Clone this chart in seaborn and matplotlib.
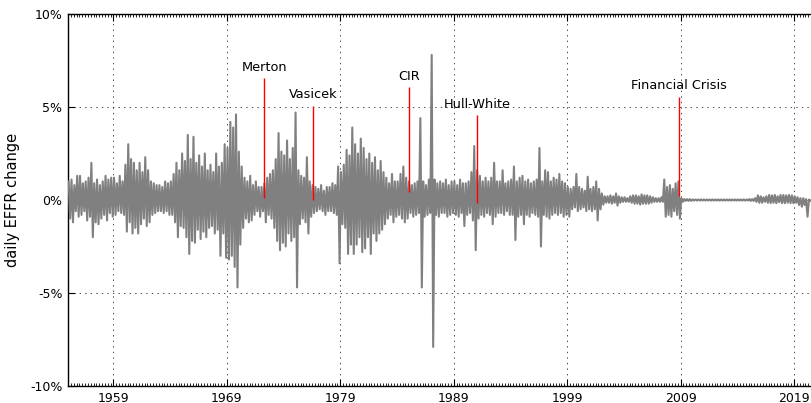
import matplotlib
matplotlib.use("Agg")
import matplotlib.pyplot as plt
from matplotlib.ticker import MultipleLocator, FuncFormatter
import pandas as pd
import seaborn as sns

# Quarterly extremes of the daily change in the effective fed funds rate (percentage points)
first_quarter = 1955.0
quarter_high = [
    1.0, 1.1, 0.8, 1.3,    # 1955
    1.3, 0.9, 1.0, 1.2,    # 1956
    2.0, 0.9, 1.1, 0.8,    # 1957
    1.0, 1.3, 1.1, 1.2,    # 1958
    1.2, 0.9, 1.3, 1.0,    # 1959
    1.9, 3.0, 2.2, 2.0,    # 1960
    1.6, 2.0, 1.5, 2.3,    # 1961
    1.6, 1.0, 0.9, 0.8,    # 1962
    0.8, 0.7, 1.0, 0.9,    # 1963
    1.0, 1.4, 2.0, 1.6,    # 1964
    2.5, 2.1, 3.5, 2.2,    # 1965
    3.4, 2.0, 2.4, 1.8,    # 1966
    2.5, 1.6, 1.9, 1.5,    # 1967
    2.5, 1.8, 2.0, 3.0,    # 1968
    2.8, 4.2, 3.9, 4.6,    # 1969
    2.6, 1.8, 1.2, 1.0,    # 1970
    1.3, 0.8, 1.0, 0.7,    # 1971
    0.7, 0.9, 1.2, 1.4,    # 1972
    1.6, 2.2, 3.6, 2.6,    # 1973
    2.4, 3.2, 2.2, 2.8,    # 1974
    4.7, 1.6, 1.3, 1.2,    # 1975
    2.3, 1.0, 0.8, 0.7,    # 1976
    0.6, 0.8, 0.5, 0.7,    # 1977
    0.7, 0.9, 0.8, 1.8,    # 1978
    1.5, 1.9, 2.7, 2.4,    # 1979
    3.9, 3.0, 2.5, 3.3,    # 1980
    2.8, 2.2, 2.5, 2.0,    # 1981
    2.3, 1.6, 2.1, 1.5,    # 1982
    1.2, 0.9, 1.4, 1.0,    # 1983
    1.0, 1.4, 1.8, 1.2,    # 1984
    1.0, 0.8, 0.9, 1.0,    # 1985
    4.4, 1.0, 0.8, 1.1,    # 1986
    7.8, 1.1, 0.9, 1.0,    # 1987
    0.9, 1.1, 0.8, 1.0,    # 1988
    1.0, 0.8, 1.1, 0.9,    # 1989
    0.9, 1.0, 1.5, 2.9,    # 1990
    1.6, 1.3, 1.0, 1.2,    # 1991
    1.0, 1.2, 2.0, 1.0,    # 1992
    1.0, 1.6, 0.9, 1.0,    # 1993
    1.1, 1.8, 1.0, 1.2,    # 1994
    1.3, 1.0, 1.1, 0.9,    # 1995
    1.0, 1.1, 2.8, 1.0,    # 1996
    1.6, 1.5, 1.0, 1.2,    # 1997
    1.1, 1.4, 1.0, 0.9,    # 1998
    0.7, 0.6, 0.7, 1.4,    # 1999
    0.7, 0.6, 0.5, 1.25,   # 2000
    0.6, 0.7, 1.0, 0.6,    # 2001
    0.35, 0.2, 0.2, 0.25,  # 2002
    0.2, 0.35, 0.2, 0.15,  # 2003
    0.15, 0.1, 0.2, 0.25,  # 2004
    0.25, 0.2, 0.3, 0.25,  # 2005
    0.25, 0.2, 0.15, 0.1,  # 2006
    0.1, 0.15, 1.1, 0.7,   # 2007
    0.8, 0.6, 0.9, 1.0,    # 2008
    0.1, 0.05, 0.05, 0.05,  # 2009
    0.03, 0.03, 0.03, 0.03,  # 2010
    0.03, 0.03, 0.03, 0.03,  # 2011
    0.03, 0.03, 0.03, 0.03,  # 2012
    0.03, 0.03, 0.03, 0.03,  # 2013
    0.03, 0.03, 0.03, 0.03,  # 2014
    0.05, 0.05, 0.1, 0.25,   # 2015
    0.2, 0.15, 0.2, 0.27,    # 2016
    0.25, 0.27, 0.2, 0.27,   # 2017
    0.27, 0.25, 0.27, 0.25,  # 2018
    0.2, 0.15, 0.1, 0.1,     # 2019
    0.05, 0.02, 0.02, 0.02,  # 2020
    0.02, 0.02, 0.02, 0.02,  # 2021
]
quarter_low = [
    -1.0, -1.2, -0.6, -0.9,    # 1955
    -0.8, -0.6, -1.1, -0.9,    # 1956
    -2.0, -1.2, -1.3, -1.0,    # 1957
    -0.8, -1.1, -0.7, -0.9,    # 1958
    -0.8, -0.6, -0.7, -0.8,    # 1959
    -1.7, -1.2, -1.8, -1.5,    # 1960
    -1.8, -1.3, -1.0, -1.4,    # 1961
    -1.2, -0.8, -0.7, -0.6,    # 1962
    -0.6, -0.7, -0.6, -0.8,    # 1963
    -0.8, -1.2, -2.0, -1.4,    # 1964
    -1.5, -2.0, -2.9, -2.2,    # 1965
    -2.3, -1.6, -2.1, -1.7,    # 1966
    -2.0, -1.5, -1.4, -1.8,    # 1967
    -1.6, -3.0, -1.8, -3.1,    # 1968
    -3.2, -3.0, -3.6, -4.7,    # 1969
    -2.4, -1.5, -1.0, -1.2,    # 1970
    -1.1, -0.8, -0.6, -0.9,    # 1971
    -0.6, -1.2, -0.8, -1.0,    # 1972
    -1.5, -2.2, -2.7, -2.3,    # 1973
    -2.5, -1.8, -2.2, -2.0,    # 1974
    -4.7, -1.3, -1.0, -1.2,    # 1975
    -1.8, -0.9, -0.7, -0.6,    # 1976
    -0.5, -0.6, -0.8, -0.6,    # 1977
    -0.6, -0.7, -0.8, -3.4,    # 1978
    -1.3, -1.5, -2.9, -2.4,    # 1979
    -2.9, -2.4, -2.0, -2.8,    # 1980
    -2.6, -2.0, -2.9, -1.8,    # 1981
    -2.2, -1.8, -1.6, -1.3,    # 1982
    -1.0, -0.8, -1.2, -0.9,    # 1983
    -0.8, -1.0, -1.2, -1.0,    # 1984
    -0.7, -0.9, -0.8, -0.7,    # 1985
    -4.7, -0.9, -0.8, -0.7,    # 1986
    -7.9, -0.8, -0.9, -0.7,    # 1987
    -0.7, -0.9, -0.8, -0.7,    # 1988
    -0.8, -0.9, -0.7, -1.4,    # 1989
    -0.8, -0.7, -1.1, -2.7,    # 1990
    -1.0, -0.8, -0.9, -0.7,    # 1991
    -0.8, -1.3, -0.9, -0.7,    # 1992
    -0.7, -0.8, -0.6, -0.8,    # 1993
    -0.8, -2.15, -0.9, -0.8,   # 1994
    -1.3, -0.8, -0.9, -0.7,    # 1995
    -0.8, -0.9, -2.5, -0.8,    # 1996
    -0.9, -1.0, -0.8, -0.7,    # 1997
    -0.8, -0.7, -0.9, -0.8,    # 1998
    -0.9, -0.5, -0.4, -0.6,    # 1999
    -0.5, -0.4, -0.6, -0.5,    # 2000
    -0.6, -0.5, -1.1, -0.5,    # 2001
    -0.25, -0.15, -0.15, -0.2,  # 2002
    -0.15, -0.3, -0.15, -0.1,   # 2003
    -0.1, -0.1, -0.15, -0.2,    # 2004
    -0.2, -0.25, -0.2, -0.2,    # 2005
    -0.2, -0.15, -0.1, -0.1,    # 2006
    -0.1, -0.1, -0.9, -0.8,     # 2007
    -0.9, -0.6, -0.8, -1.0,     # 2008
    -0.1, -0.05, -0.05, -0.05,  # 2009
    -0.03, -0.03, -0.03, -0.03,  # 2010
    -0.03, -0.03, -0.03, -0.03,  # 2011
    -0.03, -0.03, -0.03, -0.03,  # 2012
    -0.03, -0.03, -0.03, -0.03,  # 2013
    -0.03, -0.03, -0.03, -0.03,  # 2014
    -0.05, -0.05, -0.1, -0.15,   # 2015
    -0.15, -0.1, -0.15, -0.17,   # 2016
    -0.15, -0.17, -0.12, -0.17,  # 2017
    -0.17, -0.15, -0.17, -0.17,  # 2018
    -0.15, -0.27, -0.36, -0.27,  # 2019
    -0.9, -0.05, -0.02, -0.02,   # 2020
    -0.02, -0.02, -0.02, -0.02,  # 2021
]

# Landmark short-rate models and the financial crisis
event_names = ["Merton", "Vasicek", "CIR", "Hull-White", "Financial Crisis"]
event_years = [1972.3, 1976.63, 1985.09, 1991.08, 2008.89]
event_tops = [6.55, 5.05, 6.05, 4.55, 5.55]
event_bases = [0.12, 0.0, 0.45, -0.15, 0.2]

tick_years = [1959, 1969, 1979, 1989, 1999, 2009, 2019]
y_ticks = [-10, -5, 0, 5, 10]

# Each quarter contributes its high and its low, in time order
times, changes = [], []
for i, (hi, lo) in enumerate(zip(quarter_high, quarter_low)):
    t0 = first_quarter + 0.25 * i
    times += [t0 + 0.06, t0 + 0.19]
    changes += [hi, lo]
df = pd.DataFrame({"year": times, "change": changes})

sns.set_theme(style="ticks", rc={
    "axes.edgecolor": "black",
    "axes.linewidth": 1.0,
    "xtick.direction": "in",
    "ytick.direction": "in",
    "xtick.top": True,
    "ytick.right": True,
    "xtick.color": "black",
    "ytick.color": "black",
    "text.color": "black",
    "axes.labelcolor": "black",
})
plt.rcParams["font.family"] = ["DejaVu Sans"]

fig = plt.figure(figsize=(8.12, 4.03), dpi=100)
ax = fig.add_axes([68 / 812, 17 / 403, 762 / 812, 372 / 403])

sns.lineplot(data=df, x="year", y="change", color="gray", linewidth=1.5,
             estimator=None, sort=False, ax=ax, zorder=3)

ax.vlines(event_years, event_bases, event_tops, colors="red", linewidth=1.0, zorder=4)
for name, yr, top in zip(event_names, event_years, event_tops):
    ax.text(yr, top + 0.25, name, ha="center", va="bottom", fontsize=9.3, zorder=5)

ax.set_xlim(1955.0, 2022.17)
ax.set_ylim(-10, 10)
ax.set_xticks(tick_years)
ax.set_xticklabels([str(y) for y in tick_years])
ax.xaxis.set_minor_locator(MultipleLocator(0.25))
ax.set_yticks(y_ticks)
ax.yaxis.set_major_formatter(FuncFormatter(lambda v, _: f"{int(v)}%"))

ax.tick_params(axis="both", which="major", length=5, width=0.8, labelsize=9, pad=4)
ax.tick_params(axis="x", which="minor", length=2, width=0.6, top=True, bottom=True)
ax.tick_params(axis="y", which="minor", left=False, right=False)

ax.grid(True, which="major", color="black", linestyle=(0, (2, 6)), linewidth=0.5, zorder=1)
ax.set_axisbelow(True)

ax.set_xlabel("")
ax.set_ylabel("daily EFFR change", fontsize=10.5, labelpad=7)

fig.savefig("out.png", dpi=100)
